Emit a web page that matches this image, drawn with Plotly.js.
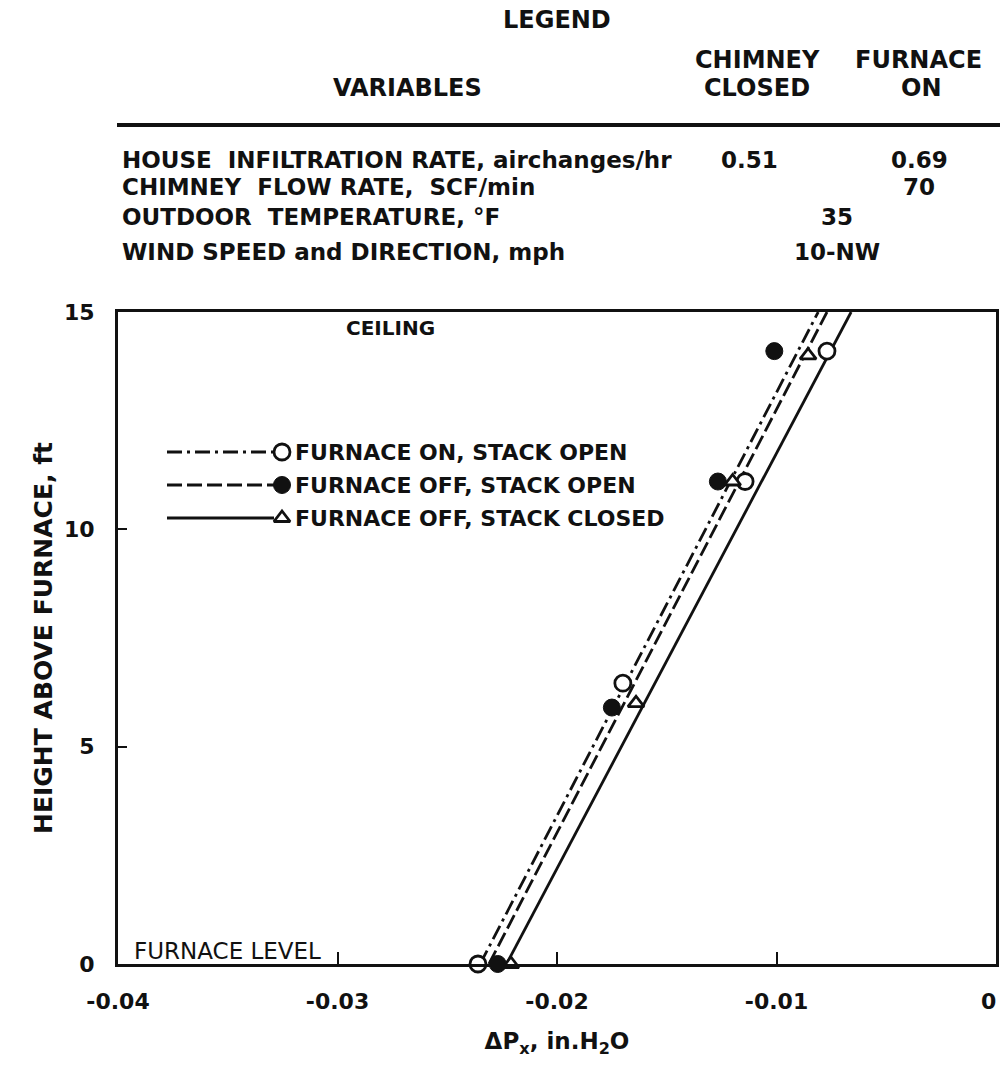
<!DOCTYPE html>
<html>
<head>
<meta charset="utf-8">
<script src="https://cdn.plot.ly/plotly-3.0.1.min.js"></script>
<style>html,body{margin:0;padding:0;background:#fff;}#chart{width:1001px;height:1077px;}</style>
</head>
<body>
<div id="chart"></div>
<script>
// ---------- data ----------
const seriesNames = ["FURNACE ON, STACK OPEN", "FURNACE OFF, STACK OPEN", "FURNACE OFF, STACK CLOSED"];

// measured points (dP in in.H2O, height in ft)
const onX = [-0.0236, -0.0170, -0.01143, -0.0077];
const onY = [0, 6.46, 11.1, 14.1];
const offOpenX = [-0.0227, -0.0175, -0.01267, -0.0101];
const offOpenY = [0, 5.9, 11.1, 14.1];
const closedX = [-0.0221, -0.0164, -0.0120, -0.00856];
const closedY = [0, 6.0, 11.1, 14.0];

// fitted lines
const lineY = [0, 15];
const onLineX = [-0.0235, -0.0081];
const offOpenLineX = [-0.0231, -0.0077];
const closedLineX = [-0.0223, -0.0066];

// axis ticks
const xTickVals = [-0.04, -0.03, -0.02, -0.01, 0];
const xTickText = ["-0.04", "-0.03", "-0.02", "-0.01", "0"];
const yTickVals = [0, 5, 10, 15];
const yTickText = ["0", "5", "10", "15"];

// legend table
const tableVariables = ["HOUSE  INFILTRATION RATE, airchanges/hr", "CHIMNEY  FLOW RATE,  SCF/min", "OUTDOOR  TEMPERATURE, °F", "WIND SPEED and DIRECTION, mph"];
const tableChimneyClosed = ["0.51", "", "", ""];
const tableFurnaceOn = ["0.69", "70", "", ""];
const tableBoth = ["", "", "35", "10-NW"];

// ---------- layout helpers ----------
const L = 118, R = 996, T = 312, B = 964, W = 1001, H = 1077;
const px = x => (x - L) / (R - L);
const py = y => (B - y) / (B - T);
const FONT = "DejaVu Sans, sans-serif";
const bold = (size) => ({family: FONT, size: size, color: "#111", weight: "bold"});

const dashDot = "15px,5px,3px,5px";
const dashed = "15px,5px";
const styles = [
  {dash: dashDot},
  {dash: dashed},
  {dash: "solid"}
];

function lineTrace(x, y, dash) {
  return {x: x, y: y, mode: "lines", type: "scatter", line: {color: "#111", width: 2.8, dash: dash}, showlegend: false, hoverinfo: "skip"};
}
function markTrace(x, y, i) {
  let marker;
  if (i === 0) marker = {symbol: "circle", size: 16, color: "#fff", line: {color: "#111", width: 2.8}};
  else if (i === 1) marker = {symbol: "circle", size: 17, color: "#111", line: {color: "#111", width: 1}};
  else marker = {symbol: "triangle-up", size: 14, color: "#fff", line: {color: "#111", width: 2.8}};
  return {x: x, y: y, mode: "markers", type: "scatter", marker: marker, cliponaxis: false, showlegend: false, name: seriesNames[i]};
}

const traces = [
  lineTrace(onLineX, lineY, dashDot),
  lineTrace(offOpenLineX, lineY, dashed),
  lineTrace(closedLineX, lineY, "solid"),
  markTrace(onX, onY, 0),
  markTrace(offOpenX, offOpenY, 1),
  markTrace(closedX, closedY, 2)
];

// in-plot legend (drawn on an overlay axis in pixel units)
const legRows = [452, 485, 518];
const legLineX0 = 167, legLineX1 = 274, legMarkX = 282, legTextX = 293;
legRows.forEach((ry, i) => {
  traces.push({x: [legLineX0, legLineX1], y: [ry, ry], xaxis: "x2", yaxis: "y2", mode: "lines", type: "scatter",
    line: {color: "#111", width: 2.8, dash: styles[i].dash}, showlegend: false, hoverinfo: "skip", cliponaxis: false});
  const t = markTrace([legMarkX], [ry], i);
  t.xaxis = "x2"; t.yaxis = "y2";
  traces.push(t);
});

const annotations = [];
function ann(text, x, y, size, anchor, weight) {
  annotations.push({text: text, xref: "paper", yref: "paper", x: px(x), y: py(y), xanchor: anchor || "center", yanchor: "middle",
    showarrow: false, font: {family: FONT, size: size, color: "#111", weight: weight || "bold"}});
}
ann("LEGEND", 557, 20, 24);
ann("VARIABLES", 407, 88, 24);
ann("CHIMNEY", 757, 60, 24);
ann("CLOSED", 757, 88, 24);
ann("FURNACE", 918, 60, 24);
ann("ON", 921, 88, 24);
const rowY = [160, 187, 217, 252];
tableVariables.forEach((t, i) => ann(t, 120, rowY[i], 23, "left"));
tableChimneyClosed.forEach((t, i) => { if (t) ann(t, 749, rowY[i], 23); });
tableFurnaceOn.forEach((t, i) => { if (t) ann(t, 919, rowY[i], 23); });
tableBoth.forEach((t, i) => { if (t) ann(t, 837, rowY[i], 23); });
seriesNames.forEach((t, i) => ann(t, legTextX, legRows[i], 22, "left"));
ann("CEILING", 390, 328, 20);
ann("FURNACE LEVEL", 132, 951, 23, "left", "normal");
// the "0" label sits at the right edge of the frame: drawn right-aligned so it stays on the page
ann(xTickText[xTickText.length - 1], 998, 1001, 22, "right");

const shapes = [
  {type: "line", xref: "paper", yref: "paper", x0: px(117), x1: px(1000), y0: py(125), y1: py(125), line: {color: "#111", width: 4}}
];

const layout = {
  width: W, height: H,
  margin: {l: L, r: W - R, t: T, b: H - B},
  paper_bgcolor: "#fff", plot_bgcolor: "#fff",
  showlegend: false,
  xaxis: {
    range: [-0.04, 0], tickvals: xTickVals.slice(0, -1), ticktext: xTickText.slice(0, -1),
    ticks: "inside", ticklen: 12, tickwidth: 2, tickcolor: "#111",
    showline: true, mirror: true, linewidth: 3, linecolor: "#111",
    showgrid: false, zeroline: false,
    tickfont: bold(22), ticklabelstandoff: 16,
    title: {text: "ΔP<sub>x</sub>, in.H<sub>2</sub>O", font: bold(23), standoff: 20}
  },
  yaxis: {
    range: [0, 15], tickvals: yTickVals, ticktext: yTickText,
    ticks: "inside", ticklen: 9, tickwidth: 2, tickcolor: "#111",
    showline: true, mirror: true, linewidth: 3, linecolor: "#111",
    showgrid: false, zeroline: false,
    tickfont: bold(22), ticklabelstandoff: 16,
    title: {text: "HEIGHT ABOVE FURNACE, ft", font: bold(25), standoff: 5}
  },
  xaxis2: {overlaying: "x", range: [L, R], visible: false, fixedrange: true},
  yaxis2: {overlaying: "y", range: [B, T], visible: false, fixedrange: true},
  annotations: annotations,
  shapes: shapes
};

Plotly.newPlot("chart", traces, layout, {displayModeBar: false, staticPlot: true});
</script>
</body>
</html>
